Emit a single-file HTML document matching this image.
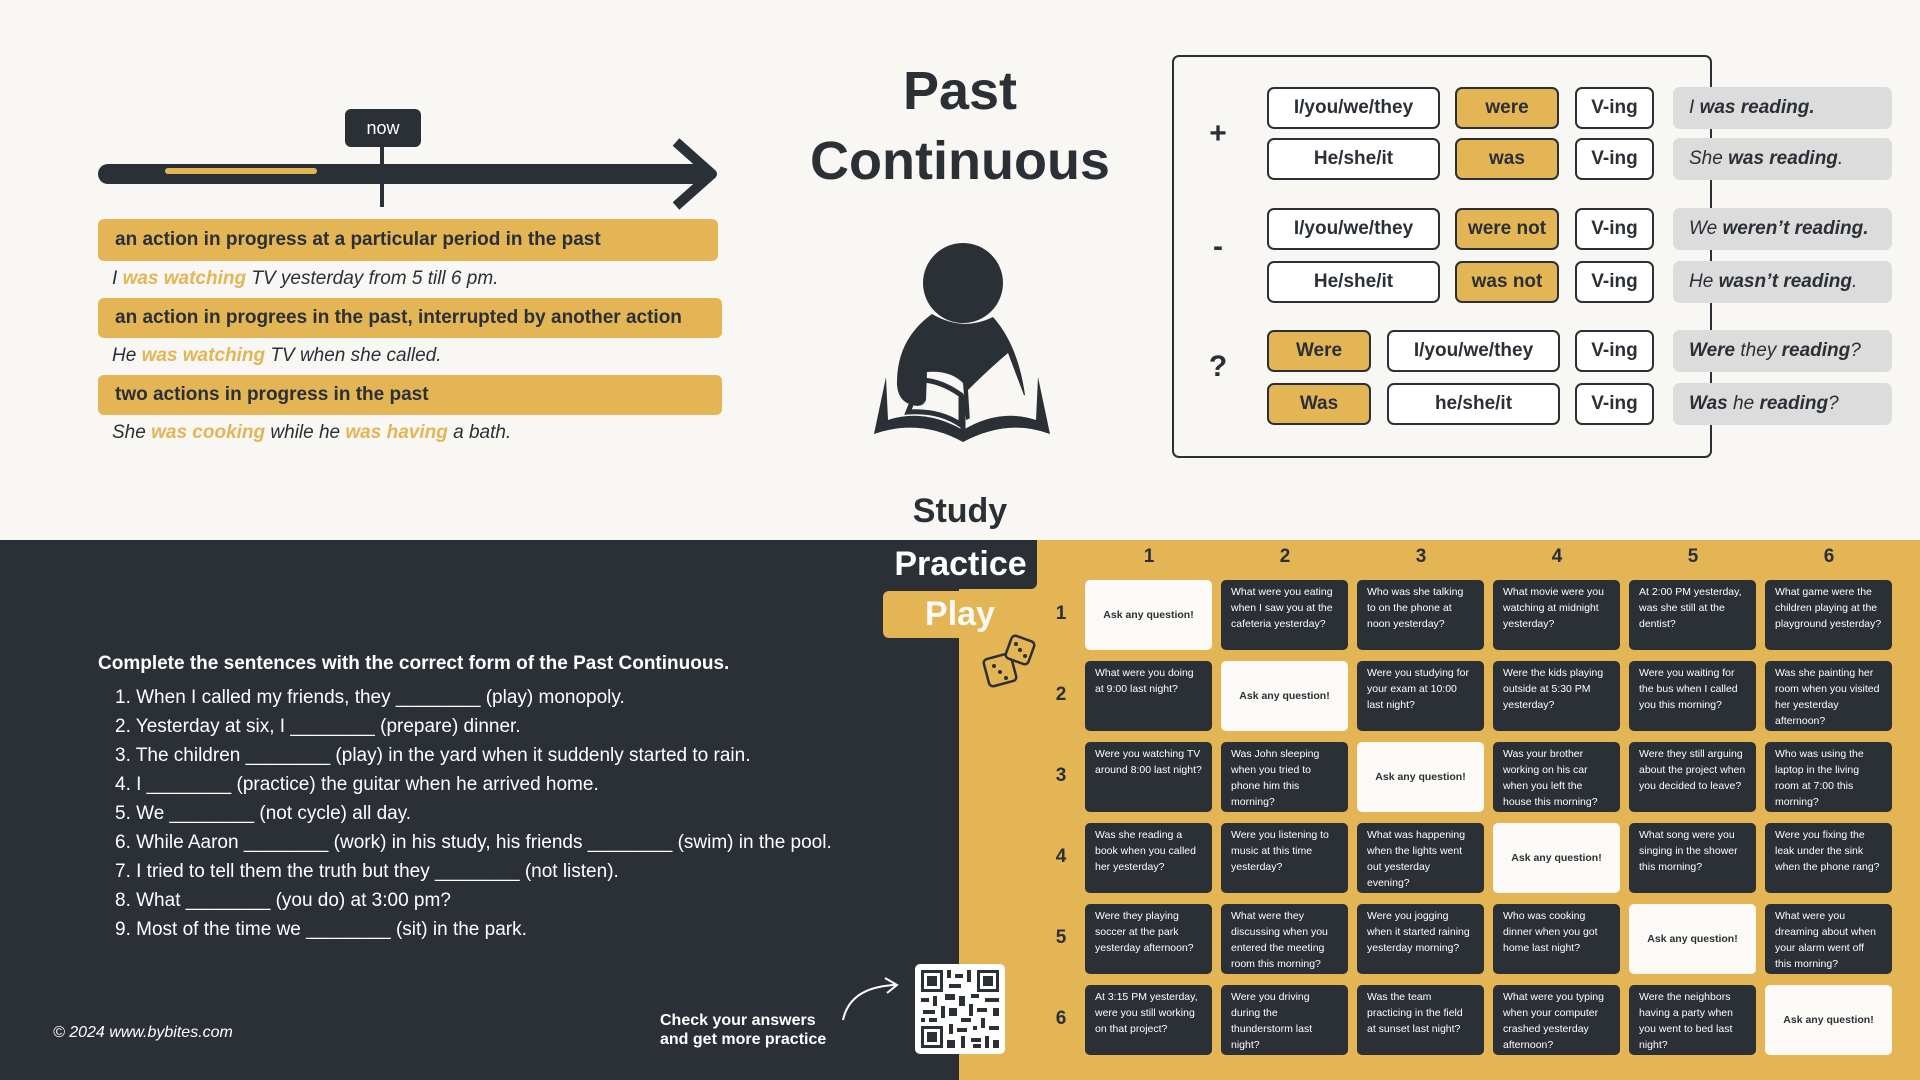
<!DOCTYPE html>
<html><head><meta charset="utf-8">
<style>
*{margin:0;padding:0;box-sizing:border-box}
body{width:1920px;height:1080px;position:relative;overflow:hidden;background:#f8f7f4;font-family:"Liberation Sans",sans-serif;color:#2b2f36}
.a{position:absolute}
.ybox{position:absolute;left:98px;background:#e3b554;border-radius:6px;font-weight:bold;font-size:19px;padding-left:17px;display:flex;align-items:center;color:#2b2f36}
.ex{position:absolute;left:112px;font-style:italic;font-size:19px;color:#2b2f36}
.ex b{color:#e3b554;font-weight:bold}
.c{position:absolute;height:42px;border:2px solid #2b2f36;border-radius:7px;background:#fff;display:flex;align-items:center;justify-content:center;font-weight:bold;font-size:19px}
.y{background:#e3b554}
.g{position:absolute;left:1673px;width:219px;height:42px;background:#dcdcdc;border-radius:7px;display:flex;align-items:center;padding-left:16px;font-style:italic;font-size:19px}
.sign{position:absolute;left:1206px;font-size:30px;font-weight:bold;width:24px;text-align:center}
.cell{position:absolute;width:127px;height:70px;background:#2b2f36;color:#fff;border-radius:5px;font-size:10.5px;line-height:16px;padding:4px 10px}
.w{background:#fbfaf6;color:#2b2f36;font-weight:bold;display:flex;align-items:center;justify-content:center;padding:0}
.ch{position:absolute;top:546px;font-weight:bold;font-size:19px;width:40px;text-align:center}
.rh{position:absolute;left:1050px;font-weight:bold;font-size:19px;width:22px;text-align:center}
.li{position:absolute;left:115px;font-size:19px;color:#fff}
</style></head><body>
<div class="a" style="left:0;top:540px;width:1920px;height:540px;background:#2b2f36"></div>
<div class="a" style="left:959px;top:540px;width:961px;height:540px;background:#e3b554"></div>

<!-- timeline -->
<svg class="a" style="left:0;top:0" width="760" height="220">
<line x1="108" y1="174" x2="700" y2="174" stroke="#2b2f36" stroke-width="20" stroke-linecap="round"/>
<polyline points="676,142 712,174 676,206" fill="none" stroke="#2b2f36" stroke-width="10" stroke-linejoin="round"/>
<line x1="168" y1="171" x2="314" y2="171" stroke="#e3b554" stroke-width="6" stroke-linecap="round"/>
<line x1="382" y1="145" x2="382" y2="207" stroke="#2b2f36" stroke-width="4"/>
<rect x="345" y="109" width="76" height="38" rx="6" fill="#2b2f36"/>
<text x="383" y="134" font-family="Liberation Sans" font-size="18" fill="#fff" text-anchor="middle">now</text>
</svg>
<div class="ybox" style="top:219px;width:620px;height:42px">an action in progress at a particular period in the past</div>
<div class="ex" style="top:268px">I <b>was watching</b> TV yesterday from 5 till 6 pm.</div>
<div class="ybox" style="top:298px;width:624px;height:40px">an action in progrees in the past, interrupted by another action</div>
<div class="ex" style="top:345px">He <b>was watching</b> TV when she called.</div>
<div class="ybox" style="top:375px;width:624px;height:40px">two actions in progress in the past</div>
<div class="ex" style="top:422px">She <b>was cooking</b> while he <b>was having</b> a bath.</div>

<div class="a" style="left:760px;top:56px;width:400px;text-align:center;font-weight:bold;font-size:54px;line-height:70px">Past<br>Continuous</div>

<svg class="a" style="left:860px;top:220px" width="220" height="230">
<circle cx="103" cy="63" r="40" fill="#2b2f36"/>
<path d="M72 94 Q103 112 133 97 Q158 125 165 175 L106 200 L103 163 Q90 150 67 152 L66 180 Q62 190 47 183 Q38 178 37 165 Q36 120 72 94Z" fill="#2b2f36"/>
<path d="M108 170 Q128 150 148 133 L165 178 Q140 185 110 202Z" fill="#f8f7f4"/>
<path d="M26 157 L14 214 Q60 198 103 222 Q148 198 190 214 L178 157 L176 200 Q140 188 103 210 Q64 188 28 200Z" fill="#2b2f36"/>
<path d="M103 175 L103 215" stroke="#2b2f36" stroke-width="5"/>
<path d="M60 160 Q80 160 101 175 L101 205 Q80 190 48 192 L62 158" fill="none" stroke="#2b2f36" stroke-width="5"/>
</svg>

<!-- table -->
<div class="a" style="left:1172px;top:55px;width:540px;height:403px;border:2px solid #2b2f36;border-radius:7px"></div>
<div class="sign" style="top:117px">+</div>
<div class="sign" style="top:230px">-</div>
<div class="sign" style="top:350px">?</div>
<div class="c" style="left:1267px;top:87px;width:173px">I/you/we/they</div>
<div class="c y" style="left:1455px;top:87px;width:104px">were</div>
<div class="c" style="left:1575px;top:87px;width:79px">V-ing</div>
<div class="g" style="top:87px">I&nbsp;<b>was reading.</b></div>
<div class="c" style="left:1267px;top:138px;width:173px">He/she/it</div>
<div class="c y" style="left:1455px;top:138px;width:104px">was</div>
<div class="c" style="left:1575px;top:138px;width:79px">V-ing</div>
<div class="g" style="top:138px">She&nbsp;<b>was reading</b>.</div>
<div class="c" style="left:1267px;top:208px;width:173px">I/you/we/they</div>
<div class="c y" style="left:1455px;top:208px;width:104px">were not</div>
<div class="c" style="left:1575px;top:208px;width:79px">V-ing</div>
<div class="g" style="top:208px">We&nbsp;<b>weren’t reading.</b></div>
<div class="c" style="left:1267px;top:261px;width:173px">He/she/it</div>
<div class="c y" style="left:1455px;top:261px;width:104px">was not</div>
<div class="c" style="left:1575px;top:261px;width:79px">V-ing</div>
<div class="g" style="top:261px">He&nbsp;<b>wasn’t reading</b>.</div>
<div class="c y" style="left:1267px;top:330px;width:104px">Were</div>
<div class="c" style="left:1387px;top:330px;width:173px">I/you/we/they</div>
<div class="c" style="left:1575px;top:330px;width:79px">V-ing</div>
<div class="g" style="top:330px"><b>Were</b>&nbsp;they&nbsp;<b>reading</b>?</div>
<div class="c y" style="left:1267px;top:383px;width:104px">Was</div>
<div class="c" style="left:1387px;top:383px;width:173px">he/she/it</div>
<div class="c" style="left:1575px;top:383px;width:79px">V-ing</div>
<div class="g" style="top:383px"><b>Was</b>&nbsp;he&nbsp;<b>reading</b>?</div>

<!-- study practice play -->
<div class="a" style="left:860px;top:492px;width:200px;text-align:center;font-weight:bold;font-size:34px">Study</div>
<div class="a" style="left:884px;top:540px;width:153px;height:49px;background:#2b2f36;border-radius:0 0 6px 6px;color:#fff;font-weight:bold;font-size:34px;text-align:center;line-height:49px">Practice</div>
<div class="a" style="left:883px;top:591px;width:154px;height:47px;background:#e3b554;border-radius:6px;color:#fbfaf6;font-weight:bold;font-size:34px;text-align:center;line-height:47px">Play</div>
<svg class="a" style="left:980px;top:630px" width="66" height="66">
<g fill="none" stroke="#2b2f36" stroke-width="2.5">
<rect x="6" y="26" width="28" height="28" rx="4" transform="rotate(-15 20 40)" fill="#e3b554"/>
<rect x="28" y="8" width="24" height="24" rx="4" transform="rotate(20 40 20)" fill="#e3b554"/>
</g>
<g fill="#2b2f36"><circle cx="14" cy="36" r="2"/><circle cx="20" cy="42" r="2"/><circle cx="26" cy="48" r="2"/><circle cx="40" cy="20" r="2"/><circle cx="36" cy="14" r="2"/><circle cx="45" cy="26" r="2"/></g>
</svg>

<!-- exercise -->
<div class="a" style="left:98px;top:653px;font-weight:bold;font-size:19px;color:#fff">Complete the sentences with the correct form of the Past Continuous.</div>
<div class="li" style="top:687px">1. When I called my friends, they ________ (play) monopoly.</div>
<div class="li" style="top:716px">2. Yesterday at six, I ________ (prepare) dinner.</div>
<div class="li" style="top:745px">3. The children ________ (play) in the yard when it suddenly started to rain.</div>
<div class="li" style="top:774px">4. I ________ (practice) the guitar when he arrived home.</div>
<div class="li" style="top:803px">5. We ________ (not cycle) all day.</div>
<div class="li" style="top:832px">6. While Aaron ________ (work) in his study, his friends ________ (swim) in the pool.</div>
<div class="li" style="top:861px">7. I tried to tell them the truth but they ________ (not listen).</div>
<div class="li" style="top:890px">8. What ________ (you do) at 3:00 pm?</div>
<div class="li" style="top:919px">9. Most of the time we ________ (sit) in the park.</div>
<div class="a" style="left:53px;top:1024px;font-style:italic;font-size:16px;color:#fff">© 2024 www.bybites.com</div>
<div class="a" style="left:660px;top:1011px;font-weight:bold;font-size:16px;color:#fff;line-height:19px">Check your answers<br>and get more practice</div>
<svg class="a" style="left:835px;top:975px" width="75" height="50">
<path d="M8 45 Q15 12 60 10" fill="none" stroke="#fff" stroke-width="2"/>
<path d="M50 3 L62 10 L52 18" fill="none" stroke="#fff" stroke-width="2"/>
</svg>
<svg class="a" style="left:915px;top:964px" width="90" height="90">
<rect width="90" height="90" rx="5" fill="#fff"/>
<g fill="#2b2f36">
<rect x="6" y="6" width="22" height="22"/><rect x="62" y="6" width="22" height="22"/><rect x="6" y="62" width="22" height="22"/>
</g>
<g fill="#fff"><rect x="9" y="9" width="16" height="16"/><rect x="65" y="9" width="16" height="16"/><rect x="9" y="65" width="16" height="16"/></g>
<g fill="#2b2f36"><rect x="12" y="12" width="10" height="10"/><rect x="68" y="12" width="10" height="10"/><rect x="12" y="68" width="10" height="10"/>
<rect x="32" y="6" width="4" height="8"/><rect x="40" y="10" width="8" height="4"/><rect x="52" y="6" width="4" height="12"/><rect x="34" y="20" width="12" height="4"/>
<rect x="6" y="34" width="8" height="4"/><rect x="18" y="32" width="4" height="10"/><rect x="30" y="30" width="10" height="6"/><rect x="44" y="32" width="6" height="10"/><rect x="56" y="30" width="8" height="4"/><rect x="70" y="34" width="14" height="4"/>
<rect x="8" y="46" width="12" height="4"/><rect x="26" y="42" width="4" height="12"/><rect x="34" y="44" width="8" height="8"/><rect x="54" y="40" width="4" height="12"/><rect x="62" y="44" width="10" height="4"/><rect x="78" y="44" width="6" height="8"/>
<rect x="6" y="54" width="4" height="4"/><rect x="14" y="54" width="8" height="4"/><rect x="46" y="54" width="10" height="4"/><rect x="66" y="54" width="4" height="10"/>
<rect x="34" y="60" width="4" height="10"/><rect x="42" y="64" width="10" height="4"/><rect x="58" y="62" width="4" height="4"/><rect x="74" y="62" width="10" height="4"/>
<rect x="32" y="76" width="8" height="8"/><rect x="46" y="72" width="4" height="12"/><rect x="56" y="74" width="10" height="4"/><rect x="70" y="72" width="4" height="12"/><rect x="78" y="76" width="6" height="8"/><rect x="58" y="80" width="8" height="4"/>
</g></svg>

<!-- grid -->
<div class="ch" style="left:1129px">1</div><div class="ch" style="left:1265px">2</div><div class="ch" style="left:1401px">3</div><div class="ch" style="left:1537px">4</div><div class="ch" style="left:1673px">5</div><div class="ch" style="left:1809px">6</div>
<div class="rh" style="top:603px">1</div><div class="rh" style="top:684px">2</div><div class="rh" style="top:765px">3</div><div class="rh" style="top:846px">4</div><div class="rh" style="top:927px">5</div><div class="rh" style="top:1008px">6</div>

<div class="cell w" style="left:1085px;top:580px">Ask any question!</div>
<div class="cell" style="left:1221px;top:580px">What were you eating when I saw you at the cafeteria yesterday?</div>
<div class="cell" style="left:1357px;top:580px">Who was she talking to on the phone at noon yesterday?</div>
<div class="cell" style="left:1493px;top:580px">What movie were you watching at midnight yesterday?</div>
<div class="cell" style="left:1629px;top:580px">At 2:00 PM yesterday, was she still at the dentist?</div>
<div class="cell" style="left:1765px;top:580px">What game were the children playing at the playground yesterday?</div>

<div class="cell" style="left:1085px;top:661px">What were you doing at 9:00 last night?</div>
<div class="cell w" style="left:1221px;top:661px">Ask any question!</div>
<div class="cell" style="left:1357px;top:661px">Were you studying for your exam at 10:00 last night?</div>
<div class="cell" style="left:1493px;top:661px">Were the kids playing outside at 5:30 PM yesterday?</div>
<div class="cell" style="left:1629px;top:661px">Were you waiting for the bus when I called you this morning?</div>
<div class="cell" style="left:1765px;top:661px">Was she painting her room when you visited her yesterday afternoon?</div>

<div class="cell" style="left:1085px;top:742px">Were you watching TV around 8:00 last night?</div>
<div class="cell" style="left:1221px;top:742px">Was John sleeping when you tried to phone him this morning?</div>
<div class="cell w" style="left:1357px;top:742px">Ask any question!</div>
<div class="cell" style="left:1493px;top:742px">Was your brother working on his car when you left the house this morning?</div>
<div class="cell" style="left:1629px;top:742px">Were they still arguing about the project when you decided to leave?</div>
<div class="cell" style="left:1765px;top:742px">Who was using the laptop in the living room at 7:00 this morning?</div>

<div class="cell" style="left:1085px;top:823px">Was she reading a book when you called her yesterday?</div>
<div class="cell" style="left:1221px;top:823px">Were you listening to music at this time yesterday?</div>
<div class="cell" style="left:1357px;top:823px">What was happening when the lights went out yesterday evening?</div>
<div class="cell w" style="left:1493px;top:823px">Ask any question!</div>
<div class="cell" style="left:1629px;top:823px">What song were you singing in the shower this morning?</div>
<div class="cell" style="left:1765px;top:823px">Were you fixing the leak under the sink when the phone rang?</div>

<div class="cell" style="left:1085px;top:904px">Were they playing soccer at the park yesterday afternoon?</div>
<div class="cell" style="left:1221px;top:904px">What were they discussing when you entered the meeting room this morning?</div>
<div class="cell" style="left:1357px;top:904px">Were you jogging when it started raining yesterday morning?</div>
<div class="cell" style="left:1493px;top:904px">Who was cooking dinner when you got home last night?</div>
<div class="cell w" style="left:1629px;top:904px">Ask any question!</div>
<div class="cell" style="left:1765px;top:904px">What were you dreaming about when your alarm went off this morning?</div>

<div class="cell" style="left:1085px;top:985px">At 3:15 PM yesterday, were you still working on that project?</div>
<div class="cell" style="left:1221px;top:985px">Were you driving during the thunderstorm last night?</div>
<div class="cell" style="left:1357px;top:985px">Was the team practicing in the field at sunset last night?</div>
<div class="cell" style="left:1493px;top:985px">What were you typing when your computer crashed yesterday afternoon?</div>
<div class="cell" style="left:1629px;top:985px">Were the neighbors having a party when you went to bed last night?</div>
<div class="cell w" style="left:1765px;top:985px">Ask any question!</div>
</body></html>
